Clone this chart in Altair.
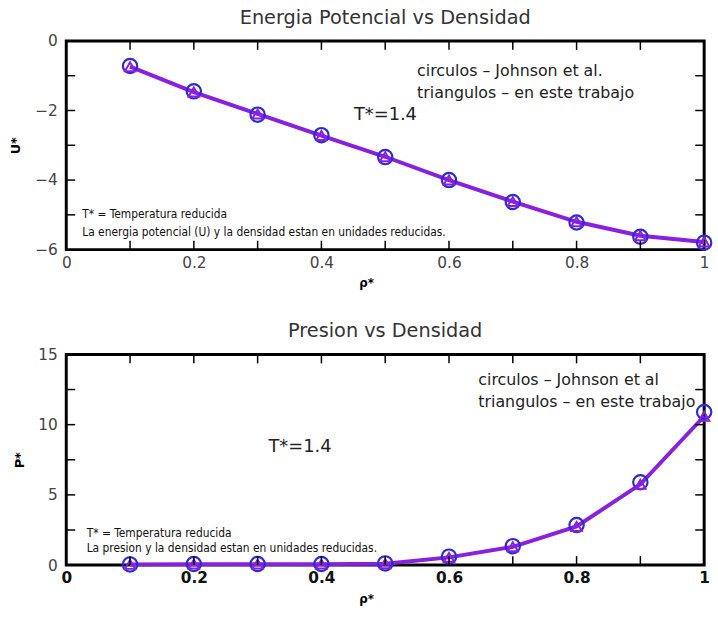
import altair as alt
import pandas as pd

# ---- data ----
rho = [0.1, 0.2, 0.3, 0.4, 0.5, 0.6, 0.7, 0.8, 0.9, 1.0]
u_johnson = [-0.72, -1.45, -2.12, -2.71, -3.34, -4.00, -4.63, -5.22, -5.63, -5.80]
u_trabajo = [-0.74, -1.47, -2.10, -2.72, -3.33, -4.00, -4.62, -5.20, -5.60, -5.78]
p_johnson = [0.05, 0.08, 0.08, 0.08, 0.12, 0.60, 1.35, 2.85, 5.90, 10.90]
p_trabajo = [0.05, 0.07, 0.07, 0.07, 0.10, 0.55, 1.30, 2.75, 5.75, 10.60]

x_label_vals = [0, 0.2, 0.4, 0.6, 0.8, 1.0]
x_minor = [0.1, 0.2, 0.3, 0.4, 0.5, 0.6, 0.7, 0.8, 0.9]
u_label_vals = [-6, -4, -2, 0]
u_minor = [-5, -4, -3, -2, -1]
p_label_vals = [0, 5, 10, 15]
p_minor = [2.5, 5, 7.5, 10, 12.5]

top_title = "Energia Potencial vs Densidad"
bot_title = "Presion vs Densidad"
legend_lines = ["circulos \u2013 Johnson et al.", "triangulos \u2013 en este trabajo"]
legend_lines_b = ["circulos \u2013 Johnson et al", "triangulos \u2013 en este trabajo"]
temp_text = "T*=1.4"
top_notes = ["T* = Temperatura reducida",
             "La energia potencial (U) y la densidad estan en unidades reducidas."]
bot_notes = ["T* = Temperatura reducida",
             "La presion y la densidad estan en unidades reducidas."]

# annotation anchor positions (data coords)
top_legend_pos = [(0.55, -0.88), (0.55, -1.50)]
top_temp_pos = (0.451, -2.13)
top_notes_pos = [(0.025, -4.98), (0.025, -5.49)]
bot_legend_pos = [(0.646, 13.17), (0.646, 11.6)]
bot_temp_pos = (0.317, 8.38)
bot_notes_pos = [(0.032, 2.3), (0.032, 1.2)]

W = 645
H1 = 211
H2 = 213
FONT = "DejaVu Sans"
PURPLE = "#8a1fe0"
BLUE = "#2a2ad8"
TICK = 9


def panel(yvals_j, yvals_t, ydom, ylabels, yminor, ytitle, title, legend, legend_pos,
          temp_pos, notes, notes_pos, H, bold_x):
    df_j = pd.DataFrame({"rho": rho, "v": yvals_j})
    df_t = pd.DataFrame({"rho": rho, "v": yvals_t})
    xs = alt.Scale(domain=[0, 1], nice=False, zero=False)
    ys = alt.Scale(domain=ydom, nice=False, zero=False)

    x_enc = alt.X("rho:Q", scale=xs, title="\u03c1*",
                  axis=alt.Axis(values=x_label_vals, format="~g", domain=False, ticks=False,
                                grid=False, labelFont=FONT, labelFontSize=15.5,
                                labelFlush=False,
                                labelFontWeight="bold" if bold_x else "normal",
                                labelColor="#111" if bold_x else "#444",
                                labelPadding=6, titleFont=FONT, titleFontSize=12,
                                titleFontWeight="bold", titlePadding=7, titleX=W * 0.47))
    y_enc = alt.Y("v:Q", scale=ys, title=ytitle,
                  axis=alt.Axis(values=ylabels, format="d", domain=False, ticks=False,
                                grid=False, labelFont=FONT, labelFontSize=15.5,
                                labelFlush=False,
                                labelColor="#444", labelPadding=9, titleFont=FONT,
                                titleFontSize=13, titleFontWeight="bold", titlePadding=12))

    line = alt.Chart(df_t).mark_line(color=PURPLE, strokeWidth=4).encode(x=x_enc, y=y_enc)
    circ = alt.Chart(df_j).mark_point(shape="circle", filled=False, color=BLUE,
                                      strokeWidth=2.2, size=210, opacity=1).encode(
        x=alt.X("rho:Q", scale=xs), y=alt.Y("v:Q", scale=ys))
    tri = alt.Chart(df_t).mark_point(shape="triangle-up", filled=False, color=PURPLE,
                                     strokeWidth=2, size=110, opacity=1).encode(
        x=alt.X("rho:Q", scale=xs), y=alt.Y("v:Q", scale=ys))

    dx = pd.DataFrame({"rho": x_minor})
    dy = pd.DataFrame({"v": yminor})
    tk_top = alt.Chart(dx).mark_rule(color="black", strokeWidth=1.5).encode(
        x=alt.X("rho:Q", scale=xs), y=alt.value(0), y2=alt.value(TICK))
    tk_bot = alt.Chart(dx).mark_rule(color="black", strokeWidth=1.5).encode(
        x=alt.X("rho:Q", scale=xs), y=alt.value(H), y2=alt.value(H - TICK))
    tk_left = alt.Chart(dy).mark_rule(color="black", strokeWidth=1.5).encode(
        y=alt.Y("v:Q", scale=ys), x=alt.value(0), x2=alt.value(TICK))
    tk_right = alt.Chart(dy).mark_rule(color="black", strokeWidth=1.5).encode(
        y=alt.Y("v:Q", scale=ys), x=alt.value(W), x2=alt.value(W - TICK))

    leg_df = pd.DataFrame({"rho": [p[0] for p in legend_pos], "v": [p[1] for p in legend_pos],
                           "t": legend})
    leg = alt.Chart(leg_df).mark_text(align="left", baseline="middle", font=FONT,
                                      fontSize=16, color="#222").encode(
        x=alt.X("rho:Q", scale=xs), y=alt.Y("v:Q", scale=ys), text="t:N")
    tdf = pd.DataFrame({"rho": [temp_pos[0]], "v": [temp_pos[1]], "t": [temp_text]})
    temp = alt.Chart(tdf).mark_text(align="left", baseline="middle", font=FONT,
                                    fontSize=18, color="#222").encode(
        x=alt.X("rho:Q", scale=xs), y=alt.Y("v:Q", scale=ys), text="t:N")
    ndf = pd.DataFrame({"rho": [p[0] for p in notes_pos], "v": [p[1] for p in notes_pos],
                        "t": notes})
    note = alt.Chart(ndf).mark_text(align="left", baseline="middle", font="DejaVu Sans Condensed",
                                    fontSize=12, color="#111").encode(
        x=alt.X("rho:Q", scale=xs), y=alt.Y("v:Q", scale=ys), text="t:N")

    return alt.layer(line, circ, tri, tk_top, tk_bot, tk_left, tk_right, leg, temp, note).properties(
        width=W, height=H,
        title=alt.TitleParams(title, font=FONT, fontSize=19.5, fontWeight="normal",
                              color="#333", offset=6))


top = panel(u_johnson, u_trabajo, [-6, 0], u_label_vals, u_minor, "U*", top_title,
            legend_lines, top_legend_pos, top_temp_pos, top_notes, top_notes_pos, H1, False)
bot = panel(p_johnson, p_trabajo, [0, 15], p_label_vals, p_minor, "P*", bot_title,
            legend_lines_b, bot_legend_pos, bot_temp_pos, bot_notes, bot_notes_pos, H2, True)

chart = alt.vconcat(top, bot, spacing=30).properties(
    padding={"left": 8, "top": 3, "right": 0, "bottom": 0},
    background="white",
).configure_view(stroke="black", strokeWidth=3)

chart.save("out.html", embed_options={"renderer": "svg", "actions": False})
